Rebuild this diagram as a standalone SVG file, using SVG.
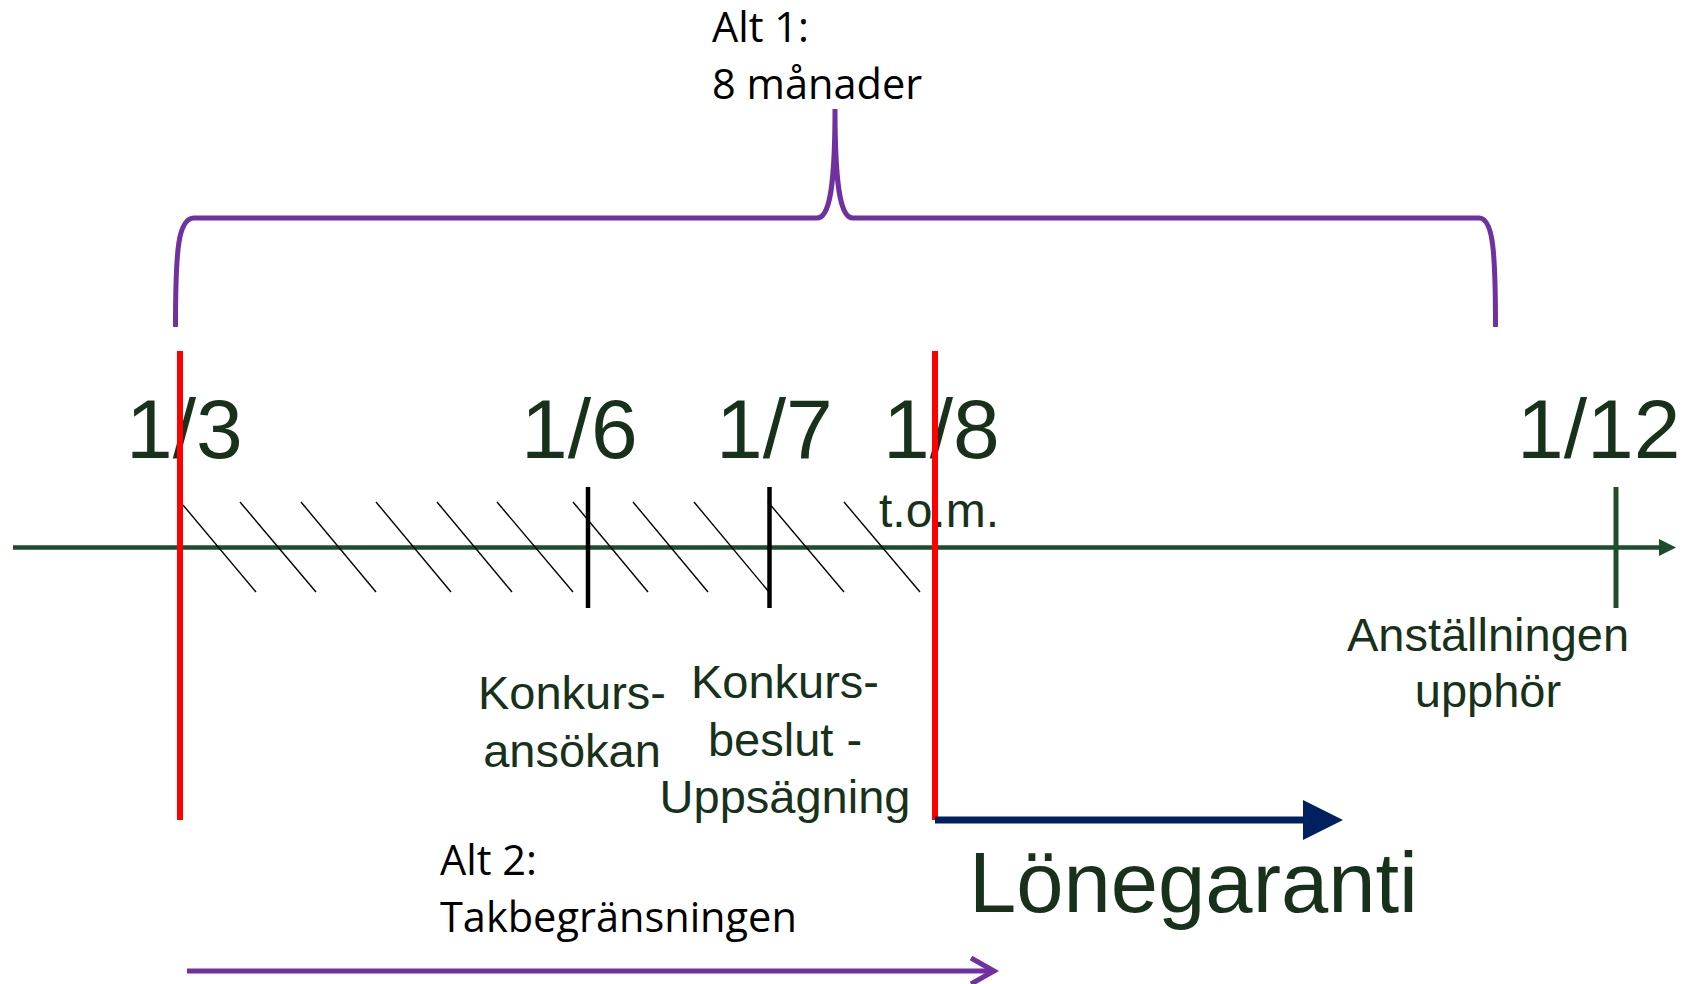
<svg xmlns="http://www.w3.org/2000/svg" width="1687" height="984" viewBox="0 0 1687 984">
<style>
.date{font-family:"Liberation Sans",Arial,sans-serif;font-size:84px;fill:#17311b}
.lbl{font-family:"Liberation Sans",Arial,sans-serif;font-size:47px;fill:#17311b}
.alt{font-family:"Open Sans","Noto Sans",sans-serif;font-size:41.5px;fill:#000}
.hatch{stroke:#000;stroke-width:1.4}
.red{stroke:#ff0000;stroke-width:6}
.tick{stroke:#000;stroke-width:4.5}
</style>
<rect width="1687" height="984" fill="#fff"/>
<g id="brace">
<path d="M175.5,327 C175.5,250 178,218 194,218 L817,218 C830,218 835,185 835,109 C835,185 840,218 853,218 L1479,218 C1493,218 1495.5,250 1495.5,327" fill="none" stroke="#7030A0" stroke-width="5"/>
</g>
<g id="alt1-label">
<text class="alt" x="712" y="42">Alt 1:</text>
<text class="alt" x="712" y="99">8 månader</text>
</g>
<g id="date-labels">
<text class="date" x="126" y="458">1/3</text>
<text class="date" x="521" y="458">1/6</text>
<text class="date" x="716" y="458">1/7</text>
<text class="date" x="883" y="458">1/8</text>
<text class="date" x="1517" y="458">1/12</text>
<text class="lbl" x="879" y="527" style="font-size:48px">t.o.m.</text>
</g>
<g id="connectors">
<g id="timeline">
<line x1="13" y1="547.5" x2="1662" y2="547.5" stroke="#1E4D2B" stroke-width="4.5"/>
<polygon points="1659,539 1676,547.5 1659,556" fill="#1E4D2B"/>
</g>
<g id="hatching">
<line class="hatch" x1="183" y1="505" x2="256" y2="592"/>
<line class="hatch" x1="240" y1="502" x2="316" y2="592"/>
<line class="hatch" x1="301" y1="502" x2="376" y2="592"/>
<line class="hatch" x1="376" y1="502" x2="451" y2="592"/>
<line class="hatch" x1="437" y1="502" x2="512" y2="592"/>
<line class="hatch" x1="497" y1="502" x2="573" y2="592"/>
<line class="hatch" x1="573" y1="502" x2="648" y2="592"/>
<line class="hatch" x1="633" y1="502" x2="708" y2="592"/>
<line class="hatch" x1="694" y1="502" x2="769" y2="592"/>
<line class="hatch" x1="768" y1="502" x2="844" y2="592"/>
<line class="hatch" x1="844" y1="502" x2="920" y2="592"/>
</g>
<g id="ticks">
<line class="tick" x1="588" y1="487" x2="588" y2="608"/>
<line class="tick" x1="769.5" y1="487" x2="769.5" y2="608"/>
<line x1="1616" y1="487" x2="1616" y2="608" stroke="#1E4D2B" stroke-width="5"/>
</g>
<g id="red-markers">
<line class="red" x1="180" y1="351" x2="180" y2="820"/>
<line class="red" x1="935" y1="351" x2="935" y2="820"/>
</g>
<g id="lonegaranti-arrow">
<line x1="935" y1="820" x2="1306" y2="820" stroke="#002060" stroke-width="7"/>
<polygon points="1303,800 1343,820 1303,840" fill="#002060"/>
</g>
<g id="alt2-arrow">
<line x1="187" y1="971" x2="993" y2="971" stroke="#7030A0" stroke-width="5"/>
<polyline points="971,958 994,971 971,984" fill="none" stroke="#7030A0" stroke-width="5"/>
</g>
</g>
<g id="konkursansokan">
<text class="lbl" x="572" y="709" text-anchor="middle">Konkurs-</text>
<text class="lbl" x="572" y="767" text-anchor="middle">ansökan</text>
</g>
<g id="konkursbeslut">
<text class="lbl" x="785" y="698" text-anchor="middle">Konkurs-</text>
<text class="lbl" x="785" y="755.5" text-anchor="middle">beslut -</text>
<text class="lbl" x="785" y="812.5" text-anchor="middle">Uppsägning</text>
</g>
<g id="anstallning">
<text class="lbl" x="1488" y="651" text-anchor="middle">Anställningen</text>
<text class="lbl" x="1488" y="707" text-anchor="middle">upphör</text>
</g>
<g id="alt2-label">
<text class="alt" x="440" y="875">Alt 2:</text>
<text class="alt" x="440" y="932">Takbegränsningen</text>
</g>
<g id="lonegaranti">
<text class="date" x="969" y="912" style="font-size:85px">Lönegaranti</text>
</g>
</svg>
